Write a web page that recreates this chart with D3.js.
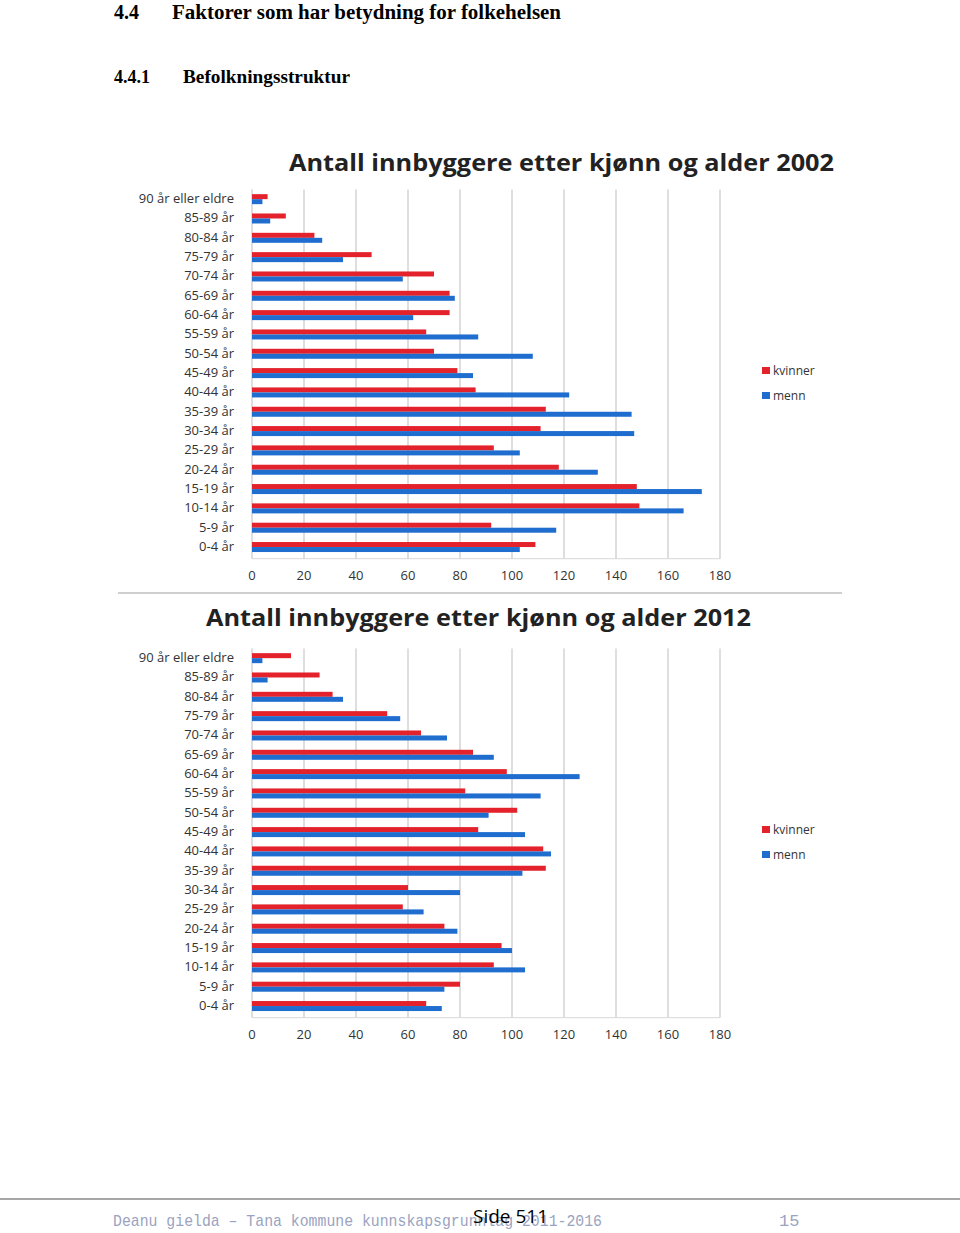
<!DOCTYPE html>
<html>
<head>
<meta charset="utf-8">
<script src="https://cdn.jsdelivr.net/npm/d3@7"></script>
<style>
  body { margin: 0; background: #fff; }
  svg { display: block; }
</style>
</head>
<body>
<script>
// age groups, top to bottom as in the chart
var ageGroups = ["90 år eller eldre", "85-89 år", "80-84 år", "75-79 år", "70-74 år",
  "65-69 år", "60-64 år", "55-59 år", "50-54 år", "45-49 år", "40-44 år", "35-39 år",
  "30-34 år", "25-29 år", "20-24 år", "15-19 år", "10-14 år", "5-9 år", "0-4 år"];

var kvinner2002 = [6, 13, 24, 46, 70, 76, 76, 67, 70, 79, 86, 113, 111, 93, 118, 148, 149, 92, 109];
var menn2002    = [4, 7, 27, 35, 58, 78, 62, 87, 108, 85, 122, 146, 147, 103, 133, 173, 166, 117, 103];

var kvinner2012 = [15, 26, 31, 52, 65, 85, 98, 82, 102, 87, 112, 113, 60, 58, 74, 96, 93, 80, 67];
var menn2012    = [4, 6, 35, 57, 75, 93, 126, 111, 91, 105, 115, 104, 80, 66, 79, 100, 105, 74, 73];

var seriesNames = ["kvinner", "menn"];
var seriesColors = ["#e3222b", "#1f6ecf"];
var xTicks = [0, 20, 40, 60, 80, 100, 120, 140, 160, 180];

var width = 960, height = 1233;

var svg = d3.select("body").append("svg")
  .attr("width", width)
  .attr("height", height);

// page headings
var serif = "'Liberation Serif', 'DejaVu Serif', serif";
svg.append("text")
  .attr("x", 114).attr("y", 19)
  .style("font-family", serif)
  .style("font-weight", "bold").style("font-size", "20px")
  .text("4.4");
svg.append("text")
  .attr("x", 172).attr("y", 19)
  .attr("textLength", 389).attr("lengthAdjust", "spacingAndGlyphs")
  .style("font-family", serif)
  .style("font-weight", "bold").style("font-size", "20px")
  .text("Faktorer som har betydning for folkehelsen");
svg.append("text")
  .attr("x", 114).attr("y", 83)
  .style("font-family", serif)
  .style("font-weight", "bold").style("font-size", "18px")
  .text("4.4.1");
svg.append("text")
  .attr("x", 183).attr("y", 83)
  .attr("textLength", 167).attr("lengthAdjust", "spacingAndGlyphs")
  .style("font-family", serif)
  .style("font-weight", "bold").style("font-size", "18px")
  .text("Befolkningsstruktur");

var x = d3.scaleLinear().domain([0, 180]).range([252, 720]);

function drawChart(opts) {
  var g = svg.append("g");

  g.append("text")
    .attr("x", opts.titleX).attr("y", opts.titleY)
    .attr("textLength", opts.titleLen).attr("lengthAdjust", "spacingAndGlyphs")
    .style("font-family", "'Open Sans', 'Noto Sans', sans-serif")
    .style("font-weight", "bold").style("font-size", "23px")
    .style("fill", "#222")
    .text(opts.title);

  var y = d3.scaleBand().domain(ageGroups).range([opts.top, opts.bottom]);
  var ySub = d3.scaleBand().domain(seriesNames)
    .range([y.bandwidth() / 2 - 5, y.bandwidth() / 2 + 5]);

  // vertical gridlines
  g.selectAll(".grid").data(xTicks).enter().append("line")
    .attr("x1", d => x(d)).attr("x2", d => x(d))
    .attr("y1", opts.top).attr("y2", opts.bottom + 2)
    .style("stroke", "#c8c8c8").style("stroke-width", 1.2);

  g.append("line")
    .attr("x1", x(0)).attr("x2", x(180))
    .attr("y1", opts.bottom + 2).attr("y2", opts.bottom + 2)
    .style("stroke", "#d8d8d8").style("stroke-width", 1);

  var rows = ageGroups.map((a, i) => ({ age: a, values: [opts.women[i], opts.men[i]] }));

  var row = g.selectAll(".row").data(rows).enter().append("g")
    .attr("transform", d => "translate(0," + y(d.age) + ")");

  row.selectAll("rect")
    .data(d => d.values.map((v, j) => ({ name: seriesNames[j], value: v, color: seriesColors[j] })))
    .enter().append("rect")
    .attr("x", x(0))
    .attr("y", d => ySub(d.name))
    .attr("width", d => x(d.value) - x(0))
    .attr("height", ySub.bandwidth())
    .style("fill", d => d.color);

  // category labels
  g.selectAll(".cat").data(ageGroups).enter().append("text")
    .attr("x", 234)
    .attr("y", d => y(d) + y.bandwidth() / 2 + 4)
    .attr("text-anchor", "end")
    .style("font-family", "'Open Sans', 'Noto Sans', sans-serif")
    .style("font-size", "13px").style("fill", "#333")
    .text(d => d);

  // x tick labels
  g.selectAll(".tick").data(xTicks).enter().append("text")
    .attr("x", d => x(d))
    .attr("y", opts.bottom + 23)
    .attr("text-anchor", "middle")
    .style("font-family", "'Open Sans', 'Noto Sans', sans-serif")
    .style("font-size", "13px").style("fill", "#333")
    .text(d => d);

  // legend
  var leg = g.selectAll(".leg").data(seriesNames).enter().append("g")
    .attr("transform", (d, i) => "translate(762," + (opts.legendY + i * 25) + ")");
  leg.append("rect")
    .attr("x", 0).attr("y", -4).attr("width", 8).attr("height", 7)
    .style("fill", (d, i) => seriesColors[i]);
  leg.append("text")
    .attr("x", 11).attr("y", 4)
    .style("font-family", "'Open Sans', 'Noto Sans', sans-serif")
    .style("font-size", "12px").style("fill", "#333")
    .text(d => d);
}

drawChart({
  title: "Antall innbyggere etter kjønn og alder 2002",
  titleX: 289, titleY: 171, titleLen: 545,
  top: 189.5, bottom: 556.7,
  women: kvinner2002, men: menn2002,
  legendY: 371
});

// separator between the two charts
svg.append("line")
  .attr("x1", 118).attr("x2", 842)
  .attr("y1", 593).attr("y2", 593)
  .style("stroke", "#cfcfcf").style("stroke-width", 2);

drawChart({
  title: "Antall innbyggere etter kjønn og alder 2012",
  titleX: 206, titleY: 626, titleLen: 545,
  top: 648.5, bottom: 1015.7,
  women: kvinner2012, men: menn2012,
  legendY: 830
});

// footer
svg.append("line")
  .attr("x1", 0).attr("x2", 960)
  .attr("y1", 1199).attr("y2", 1199)
  .style("stroke", "#888").style("stroke-width", 1.5);

svg.append("text")
  .attr("x", 113).attr("y", 1226)
  .attr("textLength", 489).attr("lengthAdjust", "spacingAndGlyphs")
  .style("font-family", "'Liberation Mono', 'DejaVu Sans Mono', monospace")
  .style("font-size", "17px").style("fill", "#9aa3c0")
  .text("Deanu gielda – Tana kommune kunnskapsgrunnlag 2011-2016");

svg.append("text")
  .attr("x", 779).attr("y", 1226)
  .style("font-family", "'Liberation Mono', 'DejaVu Sans Mono', monospace")
  .style("font-size", "17px").style("fill", "#9aa3c0")
  .text("15");

svg.append("text")
  .attr("x", 473).attr("y", 1223)
  .style("font-family", "'Open Sans', 'Noto Sans', sans-serif")
  .style("font-size", "19px").style("fill", "#000")
  .text("Side 511");
</script>
</body>
</html>
